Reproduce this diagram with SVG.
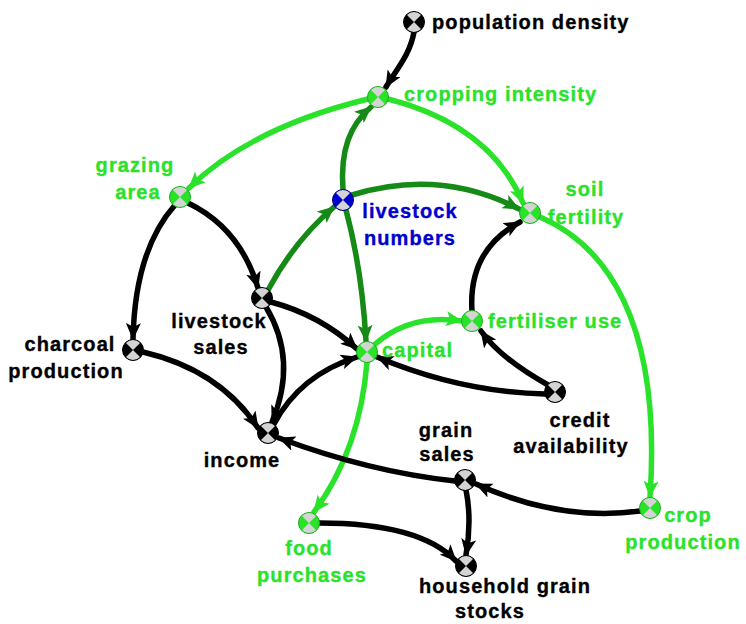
<svg xmlns="http://www.w3.org/2000/svg" xmlns:xlink="http://www.w3.org/1999/xlink" width="746" height="624" viewBox="0 0 746 624">
<style>
text{font-family:"Liberation Sans",Arial,sans-serif;font-weight:bold;font-size:20px;letter-spacing:1.1px;stroke-width:0.35px}
.tk{fill:#000;stroke:#000}.tg{fill:#2ae22a;stroke:#2ae22a}.tb{fill:#0000cc;stroke:#0000cc}
.m{text-anchor:middle}
.e{fill:none;stroke-width:5.5;stroke-linecap:round}
.ek{stroke:#000}.eg{stroke:#2ae22a}.ed{stroke:#168a16}
.nk{fill:#000;stroke:#000}.ng{fill:#2ae22a;stroke:#18b018}.nb{fill:#0000cc;stroke:#000088}
</style>
<defs>
<marker id="ak" viewBox="0 0 17 15" refX="16" refY="7.5" markerWidth="17" markerHeight="15" markerUnits="userSpaceOnUse" orient="auto"><path d="M0,0 L17,7.5 L0,15 L4,7.5 Z" fill="#000"/></marker>
<marker id="ag" viewBox="0 0 17 15" refX="16" refY="7.5" markerWidth="17" markerHeight="15" markerUnits="userSpaceOnUse" orient="auto"><path d="M0,0 L17,7.5 L0,15 L4,7.5 Z" fill="#2ae22a"/></marker>
<marker id="ad" viewBox="0 0 17 15" refX="16" refY="7.5" markerWidth="17" markerHeight="15" markerUnits="userSpaceOnUse" orient="auto"><path d="M0,0 L17,7.5 L0,15 L4,7.5 Z" fill="#168a16"/></marker>
<path id="hg" d="M0,0 L-7,-7 A9.9,9.9 0 0 1 7,-7 Z M0,0 L7,7 A9.9,9.9 0 0 1 -7,7 Z" fill="#d4d4d4"/>
</defs>
<g id="connectors">
<path class="e ek" marker-end="url(#ak)" d="M414,32 C410,55 396,70 386,87"/>
<path class="e eg" marker-end="url(#ag)" d="M368,99 Q250,128 189,188"/>
<path class="e eg" marker-end="url(#ag)" d="M388,99 Q490,125 523,203"/>
<path class="e ed" marker-end="url(#ad)" d="M343,190 C340,150 350,125 371,107"/>
<path class="e ed" marker-end="url(#ad)" d="M352,195 Q440,168 519,209"/>
<path class="e ed" marker-end="url(#ad)" d="M346,210 Q362,270 366,341"/>
<path class="e ed" marker-end="url(#ad)" d="M268,290 Q295,240 334,207"/>
<path class="e ek" marker-end="url(#ak)" d="M188,203 Q240,228 258,288"/>
<path class="e ek" marker-end="url(#ak)" d="M175,205 Q135,250 133,339"/>
<path class="e ek" marker-end="url(#ak)" d="M271,302 Q320,315 357,349"/>
<path class="e ek" marker-end="url(#ak)" d="M266,307 Q298,360 272,422"/>
<path class="e ek" marker-end="url(#ak)" d="M143,352 Q220,370 258,428"/>
<path class="e ek" marker-end="url(#ak)" d="M274,424 Q300,375 357,357"/>
<path class="e ek" marker-end="url(#ak)" d="M545,394 Q460,392 377,357"/>
<path class="e ek" marker-end="url(#ak)" d="M548,385 Q500,358 481,331"/>
<path class="e ek" marker-end="url(#ak)" d="M472,311 Q468,250 520,222"/>
<path class="e eg" marker-end="url(#ag)" d="M374,345 Q410,313 462,321"/>
<path class="e eg" marker-end="url(#ag)" d="M367,362 Q360,450 314,512"/>
<path class="e eg" marker-end="url(#ag)" d="M540,217 C605,245 662,320 650,497"/>
<path class="e ek" marker-end="url(#ak)" d="M640,511 Q560,522 476,484"/>
<path class="e ek" marker-end="url(#ak)" d="M455,481 Q370,472 279,438"/>
<path class="e ek" marker-end="url(#ak)" d="M466,490 Q472,520 466,555"/>
<path class="e ek" marker-end="url(#ak)" d="M319,523 Q420,523 456,561"/>
</g>
<g id="population_density"><circle class="nk" cx="414" cy="22" r="10.5"/><use xlink:href="#hg" x="414" y="22"/><text class="tk" x="432" y="29">population density</text></g>
<g id="cropping_intensity"><circle class="ng" cx="378" cy="97" r="10.5"/><use xlink:href="#hg" x="378" y="97"/><text class="tg" x="404" y="101">cropping intensity</text></g>
<g id="grazing_area"><circle class="ng" cx="180" cy="197" r="10.5"/><use xlink:href="#hg" x="180" y="197"/><text class="tg m" x="135" y="172">grazing</text><text class="tg m" x="138" y="199">area</text></g>
<g id="livestock_numbers"><circle class="nb" cx="343" cy="200" r="10.5"/><use xlink:href="#hg" x="343" y="200"/><text class="tb m" x="410" y="218">livestock</text><text class="tb m" x="410" y="245">numbers</text></g>
<g id="soil_fertility"><circle class="ng" cx="530" cy="213" r="10.5"/><use xlink:href="#hg" x="530" y="213"/><text class="tg m" x="585" y="196">soil</text><text class="tg m" x="586" y="224">fertility</text></g>
<g id="livestock_sales"><circle class="nk" cx="262" cy="298" r="10.5"/><use xlink:href="#hg" x="262" y="298"/><text class="tk m" x="219" y="328">livestock</text><text class="tk m" x="221" y="354">sales</text></g>
<g id="fertiliser_use"><circle class="ng" cx="472" cy="321" r="10.5"/><use xlink:href="#hg" x="472" y="321"/><text class="tg" x="488" y="328">fertiliser use</text></g>
<g id="charcoal_production"><circle class="nk" cx="133" cy="350" r="10.5"/><use xlink:href="#hg" x="133" y="350"/><text class="tk m" x="70" y="351">charcoal</text><text class="tk m" x="66" y="378">production</text></g>
<g id="capital"><circle class="ng" cx="367" cy="352" r="10.5"/><use xlink:href="#hg" x="367" y="352"/><text class="tg" x="382" y="357">capital</text></g>
<g id="credit_availability"><circle class="nk" cx="555" cy="392" r="10.5"/><use xlink:href="#hg" x="555" y="392"/><text class="tk m" x="580" y="427">credit</text><text class="tk m" x="571" y="453">availability</text></g>
<g id="income"><circle class="nk" cx="268" cy="433" r="10.5"/><use xlink:href="#hg" x="268" y="433"/><text class="tk m" x="242" y="467">income</text></g>
<g id="grain_sales"><circle class="nk" cx="465" cy="480" r="10.5"/><use xlink:href="#hg" x="465" y="480"/><text class="tk m" x="446" y="437">grain</text><text class="tk m" x="447" y="461">sales</text></g>
<g id="crop_production"><circle class="ng" cx="650" cy="508" r="10.5"/><use xlink:href="#hg" x="650" y="508"/><text class="tg m" x="688" y="522">crop</text><text class="tg m" x="683" y="549">production</text></g>
<g id="food_purchases"><circle class="ng" cx="309" cy="523" r="10.5"/><use xlink:href="#hg" x="309" y="523"/><text class="tg m" x="309" y="555">food</text><text class="tg m" x="312" y="582">purchases</text></g>
<g id="household_grain_stocks"><circle class="nk" cx="466" cy="566" r="10.5"/><use xlink:href="#hg" x="466" y="566"/><text class="tk m" x="505" y="593">household grain</text><text class="tk m" x="490" y="618">stocks</text></g>
</svg>
